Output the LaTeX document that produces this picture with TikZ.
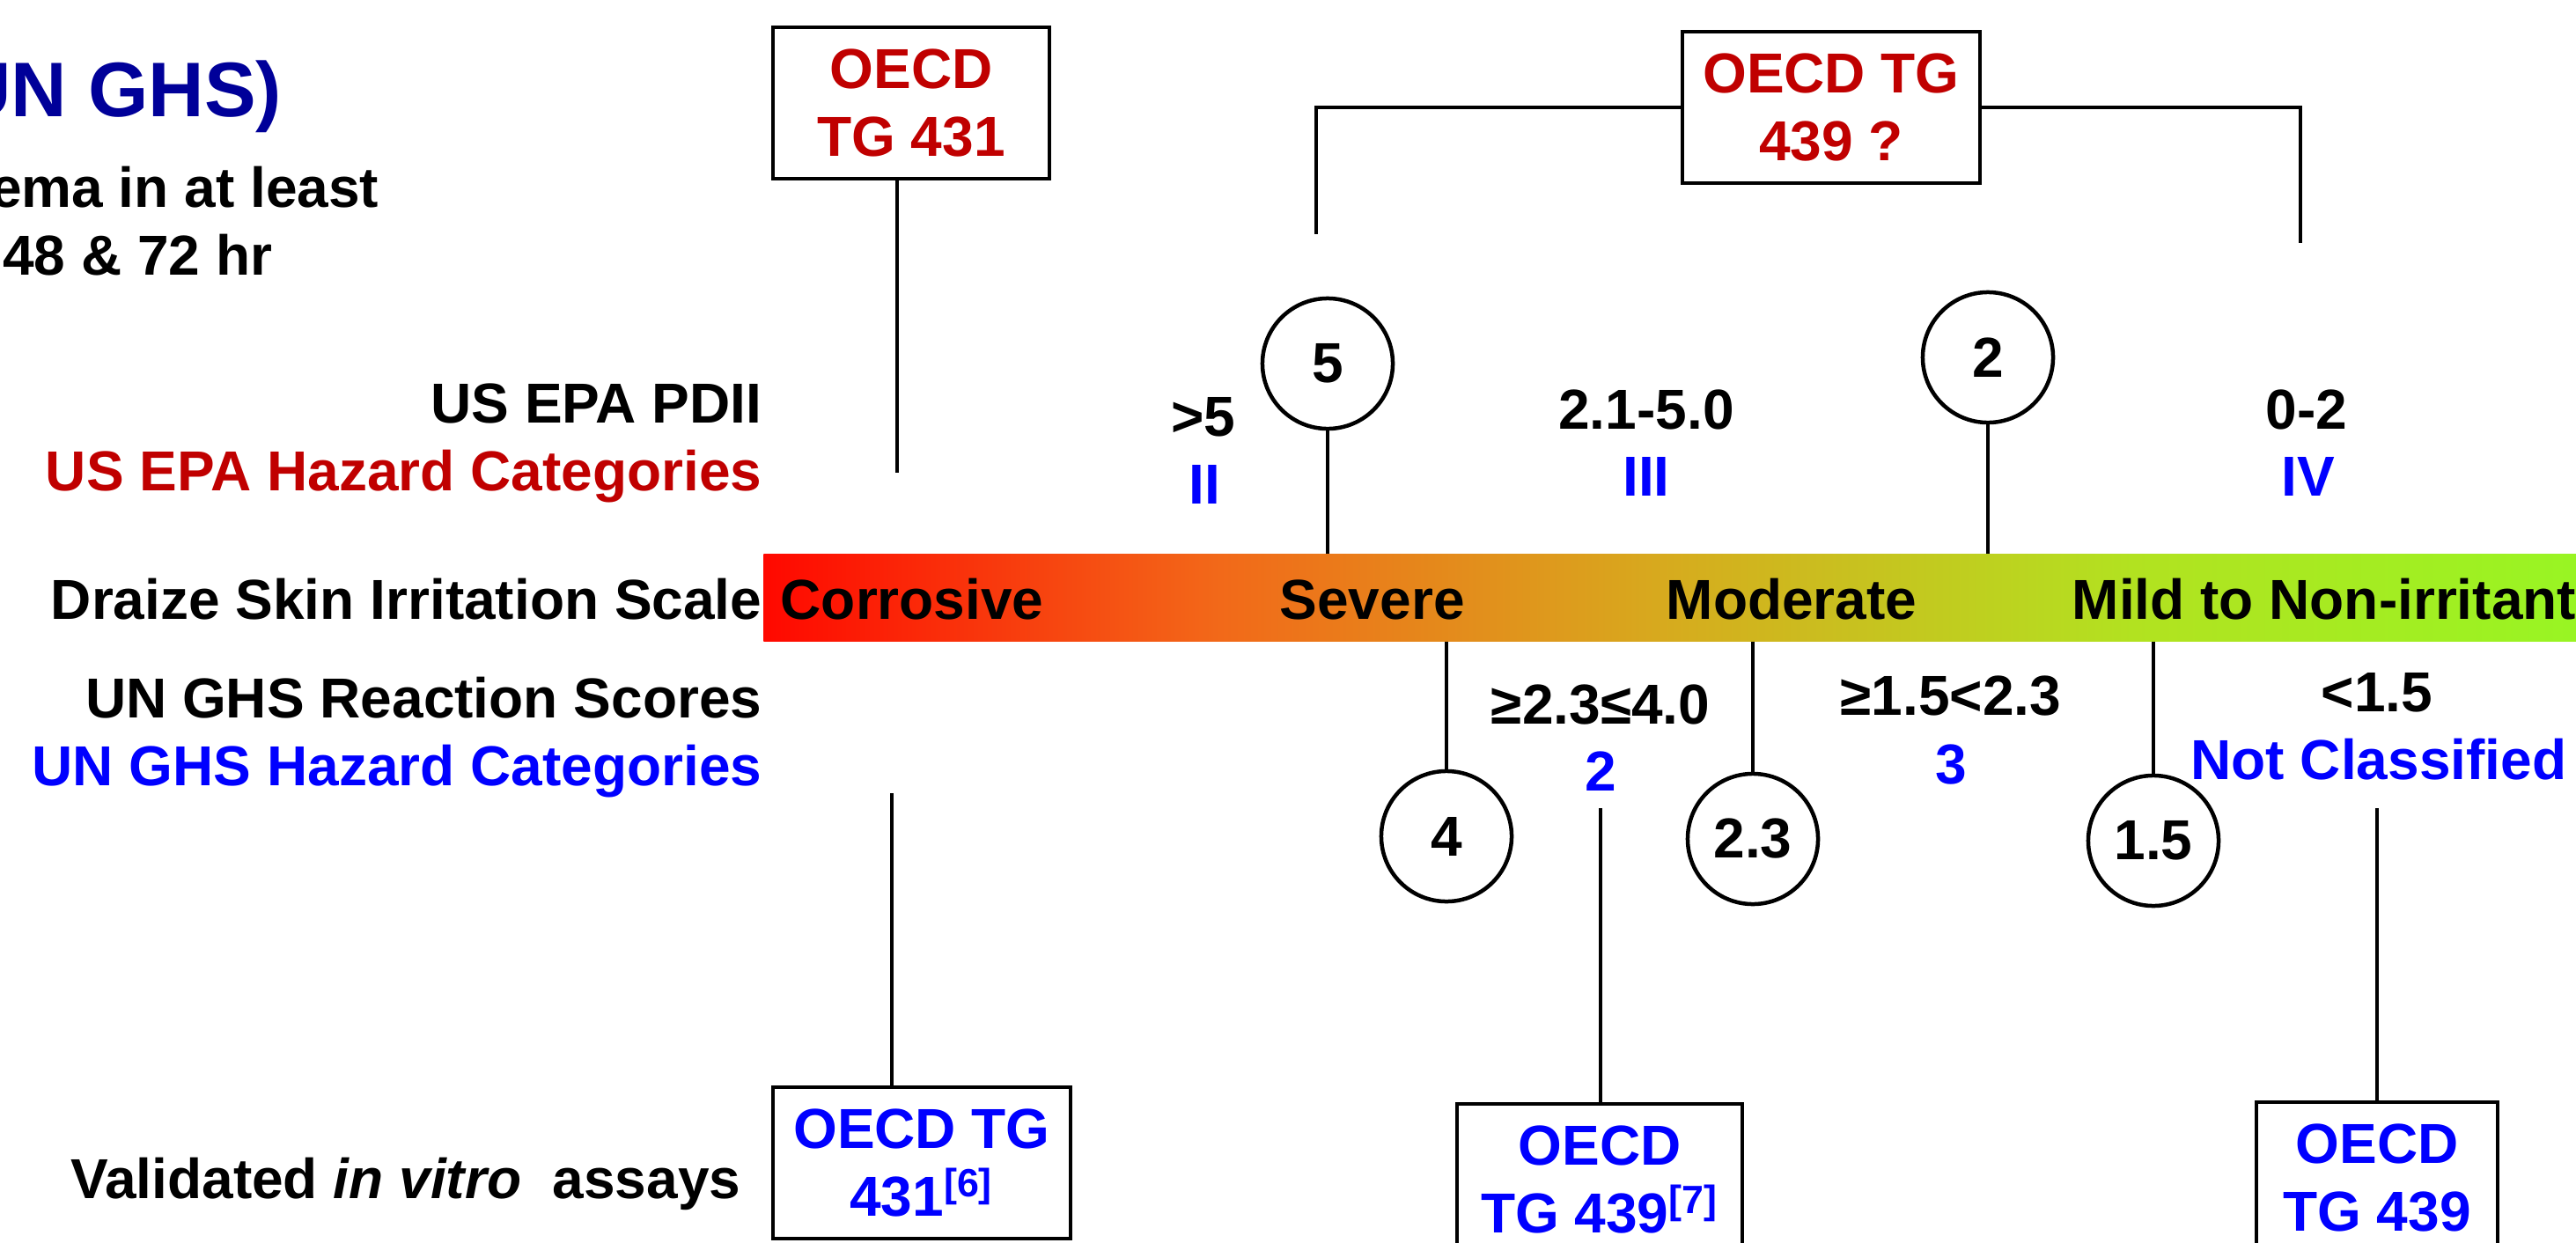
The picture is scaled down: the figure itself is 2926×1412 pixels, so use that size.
\documentclass[tikz,border=0pt]{standalone}
\usepackage{fontspec}
\setmainfont{Liberation Sans}
\usepackage{tikz}
\usetikzlibrary{positioning}
\definecolor{rojo}{RGB}{192,0,0}
\definecolor{azul}{RGB}{0,0,255}
\definecolor{marino}{RGB}{0,0,153}
\definecolor{drzA}{RGB}{255,8,0}
\definecolor{drzB}{RGB}{242,105,25}
\definecolor{drzC}{RGB}{214,172,30}
\definecolor{drzD}{RGB}{178,226,32}
\definecolor{drzE}{RGB}{152,245,35}
\pgfdeclarehorizontalshading{draize}{100bp}{color(0bp)=(drzA); color(25bp)=(drzA); color(37.5bp)=(drzB); color(50bp)=(drzC); color(62.5bp)=(drzD); color(75bp)=(drzE); color(100bp)=(drzE)}

\begin{document}
\begin{tikzpicture}[
    x=0.01cm, y=-0.01cm,
    font=\fontsize{18.2}{22}\selectfont\bfseries,
    lbl/.style={
        inner sep=0pt,
        anchor=base east
    },
    val/.style={
        inner sep=0pt,
        anchor=base
    },
    box/.style={
        rectangle,
        draw=black,
        line width=0.04cm,
        align=center,
        minimum height=1.71cm,
        inner sep=0pt
    },
    score/.style={
        circle,
        draw=black,
        line width=0.045cm,
        minimum size=1.48cm,
        inner sep=0pt
    },
    link/.style={line width=0.035cm}
]
\useasboundingbox[fill=white] (0,0) rectangle (2926,1412);

% ---------------- Titulo ----------------
\node[lbl, font=\fontsize{25}{30}\selectfont\bfseries, text=marino] (titulo) at (321,133) {UN GHS)};
\node[lbl] (crit1) at (431,235) {ema in at least};
\node[lbl] (crit2) at (310,312) {48 \& 72 hr};

% ---------------- Filas ----------------
\node[lbl] (pdii) at (866,480) {US EPA PDII};
\node[lbl, text=rojo] (epacat) at (866,557) {US EPA Hazard Categories};
\node[lbl] (draize) at (866,703) {Draize Skin Irritation Scale};
\node[lbl] (ghsscore) at (866,815) {UN GHS Reaction Scores};
\node[lbl, text=azul] (ghscat) at (866,892) {UN GHS Hazard Categories};
\node[lbl] (vitro) at (842,1361) {Validated \textit{in vitro}\ \ assays};

% ---------------- Escala ----------------
\node[shade, shading=draize, minimum width=20.72cm, minimum height=0.98cm, inner sep=0pt] (bar) at (1904,679) {};
\node[val, anchor=base west] (corr) at (886,703) {Corrosive};
\node[val, anchor=base west] (sev) at (1453,703) {Severe};
\node[val, anchor=base west] (mod) at (1892,703) {Moderate};
\node[val, anchor=base west] (mild) at (2353,703) {Mild to Non-irritant};

% ---------------- US EPA ----------------
\node[val] (v5) at (1367,495) {>5};
\node[val, text=azul] (epa2) at (1368,572) {II};
\node[val] (v21) at (1870,487) {2.1-5.0};
\node[val, text=azul] (epa3) at (1870,563) {III};
\node[val] (v02) at (2620,487) {0-2};
\node[val, text=azul] (epa4) at (2622,563) {IV};

\node[score] (c5) at (1508,413) {5};
\node[score] (c2) at (2258,406) {2};

\draw[link] (c5.south) -- (c5.south |- bar.north);
\draw[link] (c2.south) -- (c2.south |- bar.north);

% ---------------- UN GHS ----------------
\node[val] (g23) at (1818,822) {≥2.3≤4.0};
\node[val, text=azul] (cat2) at (1818,898) {2};
\node[val] (g15) at (2216,812) {≥1.5<2.3};
\node[val, text=azul] (cat3) at (2216,890) {3};
\node[val] (g0) at (2700,808) {<1.5};
\node[val, text=azul] (catnc) at (2702,885) {Not Classified};

\node[score] (c4) at (1643,950) {4};
\node[score] (c23) at (1991,953) {2.3};
\node[score] (c15) at (2446,955) {1.5};

\draw[link] (bar.south -| c4.north) -- (c4.north);
\draw[link] (bar.south -| c23.north) -- (c23.north);
\draw[link] (bar.south -| c15.north) -- (c15.north);

% ---------------- OECD (arriba) ----------------
\node[box, text=rojo, minimum width=3.14cm] (tg431a) at (1035,117) {OECD\\TG 431};
\node[box, text=rojo, minimum width=3.38cm] (tg439q) at (2080,122) {OECD TG\\439 ?};

\coordinate (e431) at (1019,537);
\coordinate (brl) at (1495,266);
\coordinate (brr) at (2613,276);
\draw[link] (tg431a.south -| e431) -- (e431);
\draw[link] (tg439q.west) -| (brl);
\draw[link] (tg439q.east) -| (brr);

% ---------------- OECD (abajo) ----------------
\node[box, text=azul, minimum width=3.38cm] (tg431b) at (1047,1321) {OECD TG\\431\textsuperscript{[6]}};
\node[box, text=azul, minimum width=3.24cm] (tg439a) at (1817,1340) {OECD\\TG 439\textsuperscript{[7]}};
\node[box, text=azul, minimum width=2.73cm] (tg439b) at (2700,1338) {OECD\\TG 439};

\coordinate (s431) at (1013,901);
\coordinate (s439a) at (1818,918);
\coordinate (s439b) at (2700,918);
\draw[link] (s431) -- (s431 |- tg431b.north);
\draw[link] (s439a) -- (s439a |- tg439a.north);
\draw[link] (s439b) -- (s439b |- tg439b.north);

\end{tikzpicture}
\end{document}
